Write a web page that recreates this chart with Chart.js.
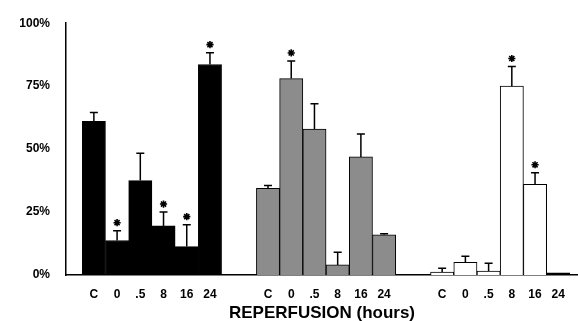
<!DOCTYPE html>
<html lang="en">
<head>
  <meta charset="UTF-8" />
  <title>Reperfusion</title>
  <style>
    * { margin: 0; padding: 0; box-sizing: border-box; }
    body { background: #fff; width: 578px; height: 321px; overflow: hidden; }
    #wrap { width: 578px; height: 321px; }
  </style>
</head>
<body>
  <div id="wrap"><canvas id="chart"></canvas></div>
  <script src="https://cdn.jsdelivr.net/npm/chart.js"></script>
  <script>
const hours = ['C', '0', '.5', '8', '16', '24'];
const yTicks = [0, 25, 50, 75, 100];

// bar positions on the x axis (three groups of six, gap between groups)
const groupOne = [0, 1, 2, 3, 4, 5];
const groupTwo = [7.5, 8.5, 9.5, 10.5, 11.5, 12.5];
const groupThree = [15, 16, 17, 18, 19, 20];

// values in %
const blackMean = [61, 13.7, 37.5, 19.5, 11.3, 83.6];
const blackErr = [64.5, 17.6, 48.4, 25, 20, 88.3];
const blackStar = [false, true, false, true, true, true];

const grayMean = [34.4, 78, 58, 4, 46.9, 16];
const grayErr = [35.5, 85, 68, 9, 56, 16.4];
const grayStar = [false, true, false, false, false, false];

const whiteMean = [1.2, 5, 1.6, 75, 36, 0.9];
const whiteErr = [2.7, 7.4, 4.7, 82.8, 40.6, 0.9];
const whiteStar = [false, false, false, true, true, false];

const allX = groupOne.concat(groupTwo, groupThree);
const allLabels = hours.concat(hours, hours);

const pts = (xs, ys) => xs.map((x, i) => ({ x, y: ys[i] }));

const errorBars = {
  id: 'errorBars',
  afterDatasetsDraw(chart) {
    const { ctx, scales: { x, y } } = chart;
    const sets = [
      [groupOne, blackMean, blackErr, blackStar],
      [groupTwo, grayMean, grayErr, grayStar],
      [groupThree, whiteMean, whiteErr, whiteStar]
    ];
    ctx.save();
    ctx.strokeStyle = '#000';
    sets.forEach(([xs, means, errs, stars]) => {
      xs.forEach((v, i) => {
        const px = x.getPixelForValue(v);
        const top = y.getPixelForValue(errs[i]);
        const base = y.getPixelForValue(means[i]);
        if (errs[i] > means[i]) {
          ctx.lineWidth = 1.5;
          ctx.beginPath();
          ctx.moveTo(px, base);
          ctx.lineTo(px, top);
          ctx.moveTo(px - 4, top);
          ctx.lineTo(px + 4, top);
          ctx.stroke();
        }
        if (stars[i]) {
          const cy = top - 8;
          ctx.lineWidth = 1.6;
          ctx.beginPath();
          for (let k = 0; k < 8; k++) {
            const a = k * Math.PI / 4;
            ctx.moveTo(px, cy);
            ctx.lineTo(px + Math.cos(a) * 3.6, cy + Math.sin(a) * 3.6);
          }
          ctx.stroke();
          ctx.beginPath();
          ctx.arc(px, cy, 2, 0, Math.PI * 2);
          ctx.fillStyle = '#000';
          ctx.fill();
        }
      });
    });
    ctx.restore();
  }
};

new Chart(document.getElementById('chart'), {
  type: 'bar',
  data: {
    datasets: [
      {
        data: pts(groupOne, blackMean),
        backgroundColor: '#000',
        borderColor: '#000',
        borderWidth: 1
      },
      {
        data: pts(groupTwo, grayMean),
        backgroundColor: '#8c8c8c',
        borderColor: '#000',
        borderWidth: 1
      },
      {
        data: pts(groupThree, whiteMean),
        backgroundColor: ['#fff', '#fff', '#fff', '#fff', '#fff', '#000'],
        borderColor: '#000',
        borderWidth: 1
      }
    ]
  },
  options: {
    responsive: true,
    maintainAspectRatio: false,
    animation: false,
    grouped: false,
    barPercentage: 1,
    categoryPercentage: 1,
    layout: { padding: { top: 19, right: 0, left: 0, bottom: 0 } },
    plugins: { legend: { display: false }, tooltip: { enabled: false } },
    scales: {
      x: {
        type: 'linear',
        offset: false,
        min: -1.2,
        max: 20.85,
        grid: { display: false, drawTicks: false },
        border: { color: '#000', width: 1.5 },
        afterBuildTicks: (scale) => { scale.ticks = allX.map(v => ({ value: v })); },
        afterFit: (scale) => { scale.height = 46; },
        ticks: {
          autoSkip: false,
          maxRotation: 0,
          padding: 12,
          color: '#000',
          font: { family: 'Arial, "Liberation Sans"', size: 12, weight: 'bold' },
          callback: (value, index) => allLabels[index]
        },
        title: {
          display: true,
          text: 'REPERFUSION (hours)',
          color: '#000',
          padding: { top: 2, bottom: -1 },
          font: { family: 'Arial, "Liberation Sans"', size: 17, weight: 'bold', lineHeight: 1 }
        }
      },
      y: {
        min: 0,
        max: 100,
        afterBuildTicks: (scale) => { scale.ticks = yTicks.map(v => ({ value: v })); },
        grid: { display: false, drawTicks: false },
        border: { color: '#000', width: 1.5 },
        afterFit: (scale) => { scale.width = 66; },
        ticks: {
          padding: 16,
          color: '#000',
          font: { family: 'Arial, "Liberation Sans"', size: 12, weight: 'bold' },
          callback: (v) => v + '%'
        }
      }
    }
  },
  plugins: [errorBars]
});
  </script>
</body>
</html>
